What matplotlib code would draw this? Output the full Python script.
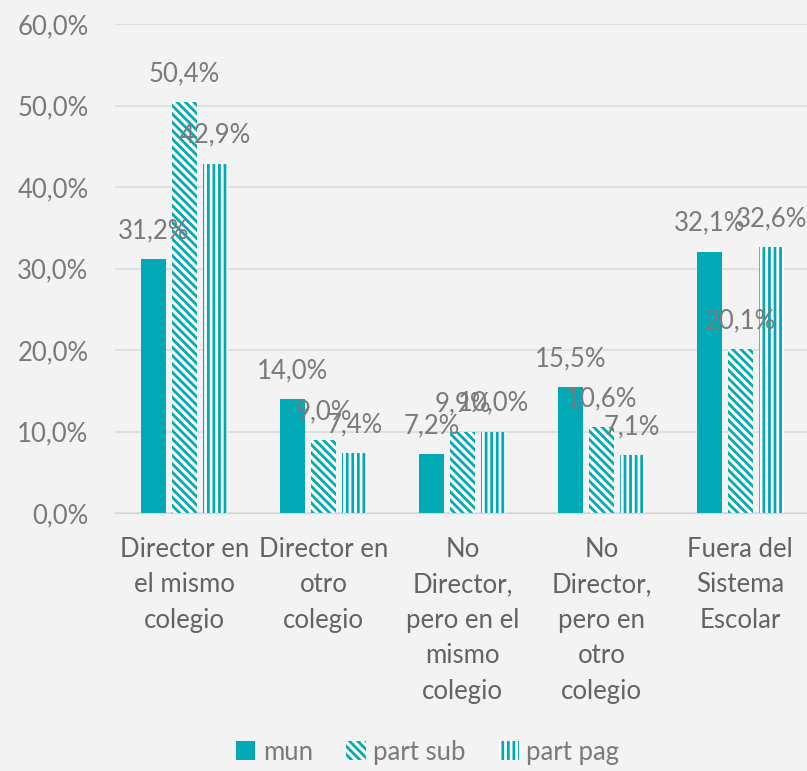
import matplotlib.pyplot as plt
import numpy as np

# data
categories = ['Director en\nel mismo\ncolegio', 'Director en\notro\ncolegio',
              'No\nDirector,\npero en el\nmismo\ncolegio', 'No\nDirector,\npero en\notro\ncolegio',
              'Fuera del\nSistema\nEscolar']
series_names = ['mun', 'part sub', 'part pag']
mun = [31.2, 14.0, 7.2, 15.5, 32.1]
part_sub = [50.4, 9.0, 9.9, 10.6, 20.1]
part_pag = [42.9, 7.4, 10.0, 7.1, 32.6]
y_ticks = [0, 10, 20, 30, 40, 50, 60]

teal = '#00A9B5'
txt = '#7a7a7a'
fs = 18.5
plt.rcParams['font.family'] = ['Lato', 'DejaVu Sans']
plt.rcParams['hatch.linewidth'] = 2.0
plt.rcParams['hatch.color'] = teal

fig = plt.figure(figsize=(8.07, 7.71), dpi=100, facecolor='#f3f3f3')
ax = fig.add_axes([0.1425, 0.3346, 0.861, 0.634])
ax.set_facecolor('none')

x = np.arange(len(categories))
w = 0.18
step = 0.222
styles = [dict(color=teal), dict(facecolor='white', edgecolor=teal, hatch='\\\\\\\\', linewidth=0),
          dict(facecolor='white', edgecolor=teal, hatch='|||', linewidth=0)]
for i, (vals, name) in enumerate(zip([mun, part_sub, part_pag], series_names)):
    pos = x + (i - 1) * step
    ax.bar(pos, vals, w, label=name, **styles[i])
    for xp, v in zip(pos, vals):
        ax.annotate(f'{v:.1f}%'.replace('.', ','), (xp, v), xytext=(0, 15),
                    textcoords='offset points', ha='center', va='baseline',
                    fontsize=fs, color=txt)

ax.set_ylim(0, 60)
ax.set_xlim(-0.5, 4.5)
ax.set_yticks(y_ticks)
ax.set_yticklabels([f'{t:.1f}%'.replace('.', ',') for t in y_ticks], fontsize=fs, color=txt)
ax.set_xticks(x)
ax.set_xticklabels(categories, fontsize=fs, color='#636363', linespacing=1.53, va='top')
ax.tick_params(axis='y', length=0, pad=19)
ax.tick_params(axis='x', length=0, pad=17)
ax.grid(axis='y', color='#dcdcdc', linewidth=1.2)
ax.set_axisbelow(True)
for s in ['top', 'right', 'left']:
    ax.spines[s].set_visible(False)
ax.spines['bottom'].set_color('#d6d6d6')

leg = fig.legend(loc='lower center', ncol=3, frameon=False, fontsize=fs,
                 bbox_to_anchor=(0.53, -0.022), handlelength=0.75, handleheight=0.75,
                 handletextpad=0.3, columnspacing=1.3)
for t in leg.get_texts():
    t.set_color(txt)

fig.savefig('out.png', dpi=100, facecolor=fig.get_facecolor())
